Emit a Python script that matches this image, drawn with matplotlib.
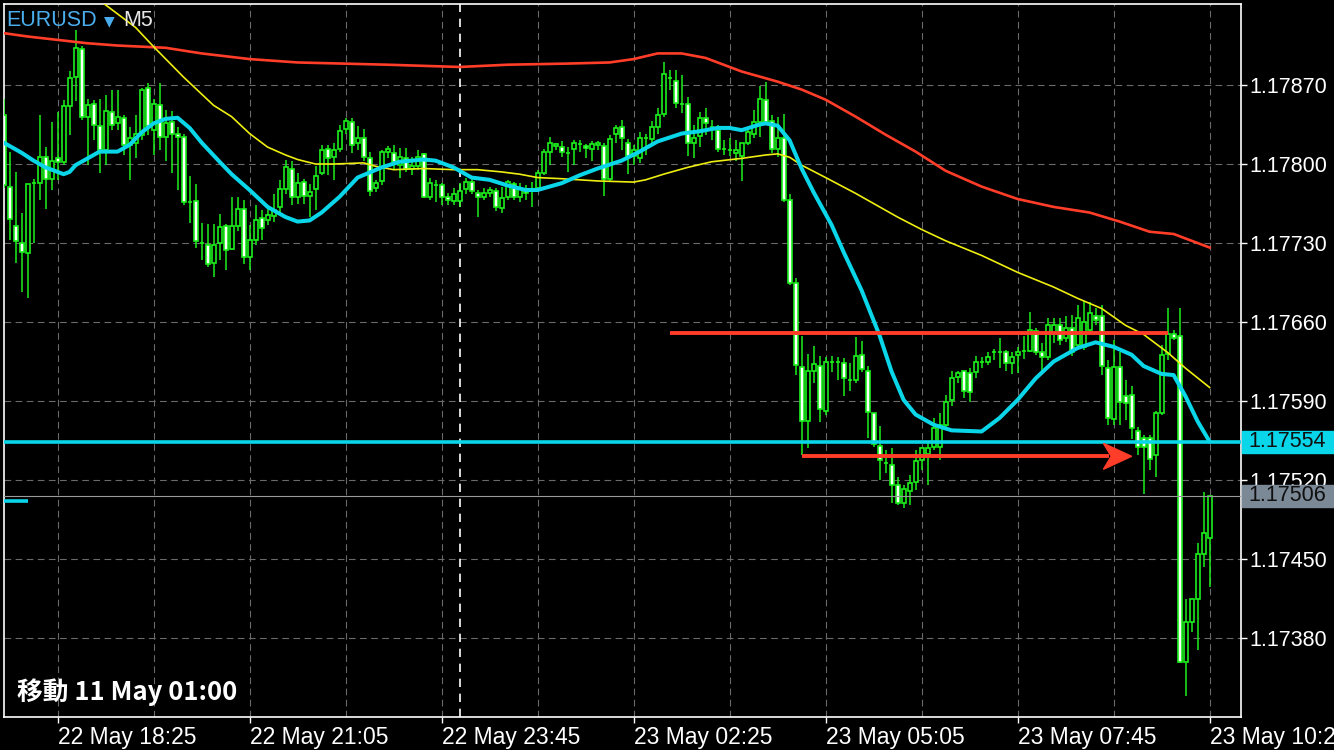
import numpy as np
import matplotlib
matplotlib.use("Agg")
import matplotlib.pyplot as plt
from matplotlib.patches import Rectangle, Polygon

# EURUSD M5, bar index 0 = 22 May 18:25 (one bar = 5 min)
first_bar = -9

opens = [
    1.17843, 1.17780, 1.17745, 1.17730, 1.17721, 1.17783, 1.17783, 1.17806, 1.17787, 1.17805,
    1.17802, 1.17851, 1.17877, 1.17902, 1.17842, 1.17853, 1.17834, 1.17812, 1.17846, 1.17836,
    1.17841, 1.17817, 1.17819, 1.17826, 1.17867, 1.17830, 1.17852, 1.17824, 1.17837, 1.17827,
    1.17824, 1.17766, 1.17767, 1.17730, 1.17728, 1.17712, 1.17730, 1.17745, 1.17725, 1.17745,
    1.17760, 1.17718, 1.17733, 1.17752, 1.17750, 1.17754, 1.17762, 1.17778, 1.17796, 1.17771,
    1.17784, 1.17772, 1.17778, 1.17792, 1.17813, 1.17806, 1.17813, 1.17831, 1.17837, 1.17819,
    1.17823, 1.17805, 1.17779, 1.17785, 1.17811, 1.17810, 1.17799, 1.17805, 1.17796, 1.17798,
    1.17809, 1.17771, 1.17781, 1.17781, 1.17771, 1.17767, 1.17767, 1.17778, 1.17784, 1.17774,
    1.17771, 1.17774, 1.17776, 1.17761, 1.17771, 1.17782, 1.17771, 1.17777, 1.17776, 1.17779,
    1.17792, 1.17811, 1.17816, 1.17815, 1.17810, 1.17813, 1.17818, 1.17816, 1.17813, 1.17817,
    1.17816, 1.17787, 1.17827, 1.17833, 1.17819, 1.17807, 1.17805, 1.17823, 1.17822, 1.17833,
    1.17844, 1.17876, 1.17874, 1.17853, 1.17853, 1.17819, 1.17825, 1.17841, 1.17833, 1.17830,
    1.17813, 1.17812, 1.17810, 1.17807, 1.17819, 1.17827, 1.17837, 1.17857, 1.17838, 1.17813,
    1.17823, 1.17768, 1.17695, 1.17620, 1.17572, 1.17617, 1.17621, 1.17581, 1.17625, 1.17625,
    1.17624, 1.17609, 1.17609, 1.17631, 1.17617, 1.17579, 1.17550, 1.17535, 1.17533, 1.17516,
    1.17500, 1.17510, 1.17518, 1.17538, 1.17543, 1.17549, 1.17549, 1.17569, 1.17591, 1.17611,
    1.17617, 1.17615, 1.17616, 1.17625, 1.17625, 1.17633, 1.17633, 1.17633, 1.17624, 1.17631,
    1.17634, 1.17634, 1.17652, 1.17633, 1.17629, 1.17650, 1.17657, 1.17646, 1.17655, 1.17640,
    1.17638, 1.17653, 1.17665, 1.17665, 1.17619, 1.17574, 1.17620, 1.17594, 1.17595, 1.17563,
    1.17557, 1.17557, 1.17542, 1.17579, 1.17632, 1.17649, 1.17648, 1.17359, 1.17394, 1.17415,
    1.17454, 1.17469,
]
highs = [
    1.17858, 1.17811, 1.17793, 1.17757, 1.17782, 1.17787, 1.17843, 1.17815, 1.17837, 1.17846,
    1.17857, 1.17882, 1.17919, 1.17905, 1.17858, 1.17857, 1.17858, 1.17861, 1.17866, 1.17866,
    1.17843, 1.17833, 1.17843, 1.17867, 1.17872, 1.17858, 1.17872, 1.17848, 1.17847, 1.17833,
    1.17827, 1.17789, 1.17782, 1.17748, 1.17747, 1.17747, 1.17756, 1.17747, 1.17771, 1.17771,
    1.17768, 1.17746, 1.17764, 1.17759, 1.17764, 1.17773, 1.17786, 1.17804, 1.17803, 1.17792,
    1.17787, 1.17782, 1.17798, 1.17817, 1.17817, 1.17819, 1.17835, 1.17841, 1.17841, 1.17834,
    1.17831, 1.17811, 1.17786, 1.17812, 1.17816, 1.17817, 1.17814, 1.17814, 1.17806, 1.17812,
    1.17810, 1.17788, 1.17786, 1.17783, 1.17774, 1.17779, 1.17783, 1.17788, 1.17787, 1.17777,
    1.17779, 1.17780, 1.17779, 1.17780, 1.17786, 1.17784, 1.17783, 1.17781, 1.17784, 1.17795,
    1.17813, 1.17824, 1.17819, 1.17820, 1.17815, 1.17821, 1.17821, 1.17818, 1.17820, 1.17820,
    1.17819, 1.17826, 1.17835, 1.17839, 1.17822, 1.17817, 1.17828, 1.17827, 1.17838, 1.17850,
    1.17890, 1.17883, 1.17883, 1.17879, 1.17859, 1.17835, 1.17846, 1.17850, 1.17839, 1.17835,
    1.17821, 1.17823, 1.17821, 1.17819, 1.17832, 1.17848, 1.17869, 1.17873, 1.17843, 1.17842,
    1.17844, 1.17773, 1.17699, 1.17648, 1.17632, 1.17639, 1.17630, 1.17629, 1.17630, 1.17629,
    1.17628, 1.17624, 1.17647, 1.17643, 1.17621, 1.17579, 1.17568, 1.17547, 1.17548, 1.17523,
    1.17516, 1.17524, 1.17547, 1.17549, 1.17553, 1.17575, 1.17579, 1.17595, 1.17617, 1.17617,
    1.17617, 1.17619, 1.17630, 1.17629, 1.17633, 1.17636, 1.17646, 1.17635, 1.17633, 1.17638,
    1.17648, 1.17669, 1.17655, 1.17641, 1.17664, 1.17664, 1.17664, 1.17665, 1.17666, 1.17675,
    1.17679, 1.17678, 1.17672, 1.17675, 1.17626, 1.17644, 1.17633, 1.17609, 1.17603, 1.17567,
    1.17560, 1.17560, 1.17581, 1.17640, 1.17672, 1.17653, 1.17672, 1.17415, 1.17415, 1.17464,
    1.17509, 1.17506,
]
lows = [
    1.17779, 1.17733, 1.17712, 1.17687, 1.17681, 1.17730, 1.17768, 1.17760, 1.17777, 1.17786,
    1.17799, 1.17826, 1.17856, 1.17839, 1.17799, 1.17821, 1.17792, 1.17799, 1.17830, 1.17830,
    1.17808, 1.17786, 1.17805, 1.17821, 1.17826, 1.17808, 1.17812, 1.17803, 1.17792, 1.17777,
    1.17764, 1.17748, 1.17726, 1.17715, 1.17709, 1.17700, 1.17715, 1.17706, 1.17724, 1.17741,
    1.17711, 1.17706, 1.17728, 1.17733, 1.17746, 1.17749, 1.17755, 1.17773, 1.17764, 1.17765,
    1.17765, 1.17753, 1.17759, 1.17790, 1.17790, 1.17786, 1.17811, 1.17827, 1.17810, 1.17812,
    1.17803, 1.17772, 1.17775, 1.17781, 1.17805, 1.17795, 1.17788, 1.17793, 1.17790, 1.17795,
    1.17770, 1.17768, 1.17766, 1.17764, 1.17764, 1.17764, 1.17762, 1.17773, 1.17773, 1.17753,
    1.17768, 1.17771, 1.17758, 1.17757, 1.17768, 1.17768, 1.17766, 1.17768, 1.17762, 1.17777,
    1.17790, 1.17799, 1.17812, 1.17806, 1.17793, 1.17799, 1.17811, 1.17805, 1.17803, 1.17812,
    1.17772, 1.17784, 1.17819, 1.17812, 1.17791, 1.17799, 1.17801, 1.17808, 1.17817, 1.17827,
    1.17842, 1.17866, 1.17850, 1.17845, 1.17807, 1.17805, 1.17815, 1.17826, 1.17821, 1.17811,
    1.17808, 1.17807, 1.17803, 1.17785, 1.17817, 1.17823, 1.17824, 1.17835, 1.17810, 1.17806,
    1.17766, 1.17693, 1.17613, 1.17542, 1.17548, 1.17606, 1.17571, 1.17578, 1.17616, 1.17609,
    1.17594, 1.17599, 1.17606, 1.17616, 1.17557, 1.17549, 1.17520, 1.17526, 1.17500, 1.17498,
    1.17495, 1.17498, 1.17511, 1.17529, 1.17516, 1.17547, 1.17538, 1.17566, 1.17586, 1.17606,
    1.17593, 1.17589, 1.17610, 1.17619, 1.17622, 1.17626, 1.17619, 1.17617, 1.17614, 1.17615,
    1.17627, 1.17633, 1.17631, 1.17617, 1.17626, 1.17641, 1.17640, 1.17642, 1.17630, 1.17635,
    1.17635, 1.17649, 1.17657, 1.17613, 1.17569, 1.17569, 1.17569, 1.17573, 1.17556, 1.17542,
    1.17508, 1.17529, 1.17523, 1.17578, 1.17626, 1.17644, 1.17358, 1.17329, 1.17385, 1.17369,
    1.17443, 1.17425,
]
closes = [
    1.17781, 1.17751, 1.17732, 1.17722, 1.17782, 1.17783, 1.17806, 1.17787, 1.17803, 1.17802,
    1.17851, 1.17876, 1.17903, 1.17842, 1.17852, 1.17835, 1.17812, 1.17847, 1.17835, 1.17842,
    1.17817, 1.17823, 1.17827, 1.17866, 1.17834, 1.17853, 1.17824, 1.17836, 1.17827, 1.17824,
    1.17766, 1.17766, 1.17732, 1.17730, 1.17711, 1.17728, 1.17744, 1.17724, 1.17745, 1.17760,
    1.17718, 1.17733, 1.17750, 1.17743, 1.17755, 1.17759, 1.17778, 1.17797, 1.17771, 1.17783,
    1.17772, 1.17775, 1.17789, 1.17812, 1.17805, 1.17812, 1.17829, 1.17838, 1.17817, 1.17823,
    1.17806, 1.17776, 1.17783, 1.17811, 1.17813, 1.17802, 1.17806, 1.17796, 1.17798, 1.17806,
    1.17771, 1.17783, 1.17781, 1.17771, 1.17768, 1.17773, 1.17776, 1.17784, 1.17776, 1.17771,
    1.17774, 1.17777, 1.17762, 1.17770, 1.17784, 1.17771, 1.17778, 1.17774, 1.17778, 1.17792,
    1.17811, 1.17819, 1.17818, 1.17811, 1.17810, 1.17819, 1.17818, 1.17814, 1.17818, 1.17819,
    1.17787, 1.17822, 1.17832, 1.17823, 1.17807, 1.17812, 1.17823, 1.17823, 1.17833, 1.17843,
    1.17880, 1.17876, 1.17854, 1.17853, 1.17819, 1.17823, 1.17841, 1.17836, 1.17833, 1.17813,
    1.17813, 1.17812, 1.17812, 1.17819, 1.17828, 1.17837, 1.17858, 1.17837, 1.17813, 1.17823,
    1.17768, 1.17695, 1.17622, 1.17572, 1.17617, 1.17623, 1.17583, 1.17625, 1.17625, 1.17625,
    1.17610, 1.17609, 1.17630, 1.17618, 1.17580, 1.17552, 1.17538, 1.17535, 1.17516, 1.17500,
    1.17512, 1.17517, 1.17537, 1.17548, 1.17548, 1.17566, 1.17569, 1.17589, 1.17610, 1.17615,
    1.17599, 1.17598, 1.17625, 1.17625, 1.17629, 1.17633, 1.17633, 1.17624, 1.17629, 1.17633,
    1.17634, 1.17653, 1.17633, 1.17629, 1.17657, 1.17657, 1.17644, 1.17655, 1.17633, 1.17664,
    1.17660, 1.17668, 1.17662, 1.17621, 1.17575, 1.17620, 1.17589, 1.17588, 1.17566, 1.17549,
    1.17549, 1.17539, 1.17579, 1.17631, 1.17649, 1.17646, 1.17359, 1.17394, 1.17415, 1.17454,
    1.17473, 1.17506,
]

# moving averages read at some bars
fast_ma_bars = [-9, -6, -4, -2, 0, 1, 2, 3, 5, 7, 10, 12, 14, 16, 18, 20, 22, 24, 27, 29,
                32, 35, 38, 40, 42, 44, 47, 50, 54, 57, 61, 63, 66, 69, 72, 75, 78, 80, 84, 87,
                90, 94, 97, 100, 104, 107, 110, 112, 114, 117, 118, 120, 122, 124, 126, 129, 131,
                134, 137, 139, 141, 143, 146, 149, 154, 157, 160, 163, 166, 170, 173, 176, 179,
                181, 184, 186, 188, 190, 192]
fast_ma = [1.17819, 1.17810, 1.17803, 1.17797, 1.17793, 1.17791, 1.17793, 1.17799, 1.17805, 1.17811,
           1.17811, 1.17817, 1.17828, 1.17836, 1.17840, 1.17841, 1.17832, 1.17819, 1.17802, 1.17791,
           1.17777, 1.17762, 1.17753, 1.17749, 1.17750, 1.17757, 1.17771, 1.17788, 1.17797, 1.17802,
           1.17804, 1.17803, 1.17797, 1.17788, 1.17786, 1.17781, 1.17777, 1.17777, 1.17783, 1.17790,
           1.17796, 1.17803, 1.17811, 1.17820, 1.17827, 1.17829, 1.17832, 1.17832, 1.17830, 1.17835,
           1.17836, 1.17834, 1.17821, 1.17796, 1.17775, 1.17746, 1.17722, 1.17688, 1.17648, 1.17616,
           1.17591, 1.17578, 1.17569, 1.17564, 1.17563, 1.17575, 1.17591, 1.17610, 1.17625, 1.17637,
           1.17642, 1.17638, 1.17631, 1.17621, 1.17614, 1.17613, 1.17594, 1.17572, 1.17554]

mid_ma_bars = [6, 8, 13, 16, 21, 26, 29, 32, 35, 38, 40, 43, 46, 51, 53, 56, 61, 66, 70, 74,
               77, 80, 84, 90, 96, 98, 101, 105, 109, 114, 118, 120, 122, 124, 128, 133, 140, 144,
               148, 154, 160, 166, 170, 174, 178, 181, 185, 188, 192]
mid_ma = [1.17950, 1.17941, 1.17921, 1.17904, 1.17877, 1.17852, 1.17842, 1.17827, 1.17815, 1.17808,
          1.17804, 1.17800, 1.17800, 1.17801, 1.17798, 1.17795, 1.17796, 1.17795, 1.17795, 1.17793,
          1.17791, 1.17788, 1.17787, 1.17785, 1.17784, 1.17786, 1.17791, 1.17797, 1.17802, 1.17805,
          1.17808, 1.17809, 1.17806, 1.17799, 1.17788, 1.17774, 1.17753, 1.17742, 1.17732, 1.17719,
          1.17704, 1.17691, 1.17681, 1.17672, 1.17657, 1.17649, 1.17633, 1.17619, 1.17602]

slow_ma_bars = [-9, -5, 0, 5, 10, 18, 24, 32, 40, 55, 67, 75, 85, 92, 96, 100, 104, 108, 114,
                120, 124, 128, 133, 138, 143, 148, 154, 160, 166, 172, 177, 182, 186, 192]
slow_ma = [1.17916, 1.17913, 1.17910, 1.17907, 1.17905, 1.17903, 1.17898, 1.17893, 1.17890, 1.17888,
           1.17886, 1.17888, 1.17889, 1.17890, 1.17893, 1.17898, 1.17898, 1.17894, 1.17882, 1.17873,
           1.17866, 1.17857, 1.17842, 1.17826, 1.17811, 1.17794, 1.17780, 1.17769, 1.17762, 1.17757,
           1.17749, 1.17740, 1.17738, 1.17726]

price_levels = [1.17380, 1.17450, 1.17520, 1.17590, 1.17660, 1.17730, 1.17800, 1.17870]
time_labels = ["22 May 18:25", "22 May 21:05", "22 May 23:45", "23 May 02:25",
               "23 May 05:05", "23 May 07:45", "23 May 10:25"]
day_break_bar = 67          # 23 May 00:00
cyan_level = 1.17554
last_price = 1.17506
left_marker = 1.17501
resist_level, resist_from, resist_to = 1.17650, 102, 185
arrow_level, arrow_from, arrow_to = 1.17541, 124, 179

GREEN = "#1cf01c"
CYAN = "#0ad6ea"
RED = "#ff3d28"
YELLOW = "#eeee10"
FONT = ["Liberation Sans", "DejaVu Sans"]

bars = np.arange(first_bar, first_bar + len(closes))
o = np.array(opens)
c = np.array(closes)
h = np.maximum(np.array(highs), np.maximum(o, c))
l = np.minimum(np.array(lows), np.minimum(o, c))

fig = plt.figure(figsize=(13.34, 7.5), dpi=100, facecolor="black")
ax = fig.add_axes([4 / 1334, 33 / 750, 1237 / 1334, 713 / 750])
ax.set_facecolor("black")
ax.set_xlim(-8.93, 197.23)
ax.set_ylim(1.17310, 1.179418)

# candles: wicks then bodies (white = bearish, black = bullish)
ax.vlines(bars, l, h, color=GREEN, lw=1.1, zorder=3)
body_col = ["white" if cc < oo else "black" for oo, cc in zip(o, c)]
ax.bar(bars, np.abs(c - o), bottom=np.minimum(o, c), width=0.68,
       color=body_col, edgecolor=GREEN, linewidth=1.2, zorder=4)

# moving averages
ax.plot(slow_ma_bars, slow_ma, color=RED, lw=1.9, zorder=5)
ax.plot(mid_ma_bars, mid_ma, color=YELLOW, lw=1.2, zorder=5)
ax.plot(fast_ma_bars, fast_ma, color=CYAN, lw=2.9, zorder=6, solid_capstyle="round")

# levels and drawings
ax.axhline(cyan_level, color=CYAN, lw=2.6, zorder=6)
ax.axhline(last_price, color="#9a9a9a", lw=0.8, zorder=6)
ax.hlines(left_marker, -9, -5, color=CYAN, lw=2.6, zorder=6)
ax.hlines(resist_level, resist_from, resist_to, color=RED, lw=2.8, zorder=7)

head_len = 4.7
head_h = 0.000115
ax.hlines(arrow_level, arrow_from, arrow_to - head_len + 1, color=RED, lw=2.8, zorder=7)
ax.add_patch(Polygon([(arrow_to, arrow_level),
                      (arrow_to - head_len, arrow_level + head_h),
                      (arrow_to - head_len + 1.3, arrow_level),
                      (arrow_to - head_len, arrow_level - head_h)],
                     closed=True, color=RED, zorder=7))

ax.axvline(day_break_bar, color="white", lw=1.2, linestyle=(0, (5, 4)), zorder=1)

# axes, grid, ticks
for s in ax.spines.values():
    s.set_color("white")
    s.set_linewidth(1.2)

ax.set_xticks(np.arange(0, 193, 32))
ax.set_xticks(np.arange(16, 193, 32), minor=True)
ax.set_xticklabels(time_labels)
ax.set_yticks(price_levels)
ax.set_yticklabels([f"{p:.5f}" for p in price_levels])
ax.yaxis.tick_right()
ax.grid(which="both", color="#6a6a6a", linestyle=(0, (6, 4)), linewidth=0.8)
ax.set_axisbelow(True)
ax.tick_params(axis="x", which="major", length=4, width=1, colors="white",
               labelsize=16.5, pad=2.5)
ax.tick_params(axis="x", which="minor", length=0)
ax.tick_params(axis="y", which="major", length=4.3, width=1, colors="white",
               labelsize=15.5, pad=1.5, right=True, left=False)
for lbl in ax.get_xticklabels():
    lbl.set_ha("left")
    lbl.set_family(FONT)
for lbl in ax.get_yticklabels():
    lbl.set_family(FONT)

# price boxes on the scale
ytr = ax.get_yaxis_transform()
box_h = 0.000195
for level, bg in [(cyan_level, CYAN), (last_price, "#7b8896")]:
    ax.add_patch(Rectangle((1.0008, level - box_h / 2), 0.08, box_h, transform=ytr,
                           color=bg, clip_on=False, zorder=8))
    ax.text(1.0057, level, f"{level:.5f}", transform=ytr, va="center", ha="left",
            color="#101010", fontsize=15.5, family=FONT, clip_on=False, zorder=9)

# header and footer texts
fig.text(6 / 1334, 1 - 20 / 750, "EURUSD", color="#4aaeee", fontsize=15.5,
         family=FONT, va="center", ha="left")
fig.text(104 / 1334, 1 - 21 / 750, "▼", color="#4aaeee", fontsize=10,
         family=["DejaVu Sans"], va="center", ha="left")
fig.text(123 / 1334, 1 - 20 / 750, "M5", color="#e6e6e6", fontsize=15.5,
         family=FONT, va="center", ha="left")
fig.text(17 / 1334, 1 - 692 / 750, "移動 11 May 01:00", color="white", fontsize=18.5,
         family=["Noto Sans CJK JP", "DejaVu Sans"], fontweight="bold",
         va="center", ha="left")

fig.savefig("out.png", dpi=100, facecolor="black")
